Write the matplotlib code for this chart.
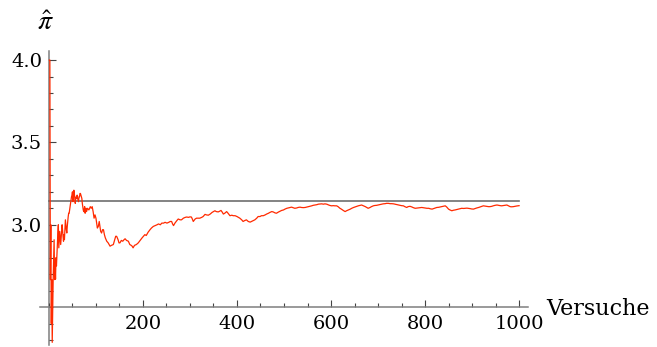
import numpy as np
import matplotlib
matplotlib.use('Agg')
import matplotlib.pyplot as plt
from matplotlib.ticker import MultipleLocator, FixedLocator

plt.rcParams['font.family'] = ['DejaVu Serif']
plt.rcParams['mathtext.fontset'] = 'stix'

# Schaetzwerte fuer pi nach n Versuchen
trials = [1, 2, 3, 4, 5, 6, 7, 8, 9, 10, 11, 12, 13, 14, 15, 16, 17, 18, 19, 20,
          21, 22, 23, 24, 25, 26, 27, 28, 29, 30, 31, 32, 33, 34, 35, 36, 37, 38, 39, 40,
          41, 42, 43, 44, 45, 46, 47, 48, 49, 50, 51, 52, 53, 54, 55, 56, 57, 58, 59, 60,
          61, 62, 63, 64, 65, 66, 67, 68, 69, 70, 71, 72, 73, 74, 75, 76, 77, 78, 79, 80,
          82, 85, 88, 90, 92, 94, 96, 98, 100, 103, 105, 107, 110, 112, 114, 116, 118, 120,
          123, 126, 128, 130, 133, 137, 140, 142, 144, 147, 149, 151, 154, 157, 160, 162,
          165, 169, 172, 175, 177, 179, 182, 186, 190, 194, 198, 201, 204, 207, 211, 215,
          218, 222, 226, 230, 233, 237, 240, 244, 247, 251, 255, 258, 261, 263, 265, 268,
          272, 275, 279, 282, 286, 290, 293, 297, 300, 303, 305, 307, 311, 314, 318, 321,
          325, 328, 332, 335, 339, 343, 347, 350, 353, 356, 360, 363, 366, 369, 371, 374,
          378, 381, 385, 389, 392, 396, 400, 403, 406, 410, 413, 416, 420, 424, 428, 431,
          435, 438, 442, 445, 449, 452, 456, 460, 463, 467, 470, 474, 477, 481, 484, 488,
          492, 495, 499, 502, 506, 509, 513, 516, 520, 523, 527, 530, 534, 537, 541, 545,
          548, 552, 555, 559, 562, 566, 570, 573, 577, 580, 584, 587, 591, 595, 598, 601,
          605, 608, 612, 615, 619, 622, 626, 630, 633, 637, 641, 644, 648, 651, 655, 658,
          662, 665, 669, 673, 676, 679, 683, 686, 690, 693, 697, 700, 704, 707, 711, 715,
          718, 722, 726, 729, 733, 736, 740, 743, 747, 750, 754, 757, 761, 764, 768, 772,
          775, 779, 782, 786, 790, 793, 797, 800, 804, 808, 811, 815, 818, 822, 825, 829,
          832, 836, 840, 843, 846, 850, 853, 857, 860, 864, 868, 871, 875, 878, 882, 885,
          889, 892, 896, 899, 903, 906, 910, 914, 917, 921, 924, 928, 931, 935, 938, 942,
          945, 949, 953, 956, 960, 963, 967, 970, 974, 977, 981, 984, 988, 991, 995, 998, 1000]
pi_hat = [4.0, 4.0, 2.667, 3.0, 2.4, 2.667, 2.286, 2.5, 2.667, 2.8, 2.909, 2.667, 2.769, 2.67, 2.8, 2.75, 2.82, 2.89, 2.95, 3.0,
          2.86, 2.91, 2.96, 2.92, 2.88, 2.92, 2.96, 3.0, 2.97, 2.93, 2.9, 2.94, 2.91, 2.97, 3.03, 3.0, 2.97, 2.95, 2.99, 3.02,
          3.05, 3.07, 3.07, 3.09, 3.11, 3.13, 3.15, 3.17, 3.18, 3.2, 3.14, 3.17, 3.21, 3.19, 3.16, 3.13, 3.16, 3.17, 3.16, 3.18,
          3.16, 3.15, 3.14, 3.17, 3.17, 3.19, 3.19, 3.18, 3.17, 3.16, 3.13, 3.11, 3.09, 3.08, 3.09, 3.11, 3.07, 3.09, 3.1, 3.08,
          3.1, 3.09, 3.11, 3.1, 3.11, 3.08, 3.04, 3.06, 3.04, 2.98, 2.99, 3.02, 2.96, 2.95, 2.97, 2.97, 2.94, 2.92,
          2.9, 2.89, 2.88, 2.87, 2.875, 2.88, 2.91, 2.93, 2.93, 2.91, 2.89, 2.89, 2.905, 2.9, 2.91, 2.915,
          2.905, 2.9, 2.88, 2.875, 2.87, 2.86, 2.875, 2.88, 2.89, 2.905, 2.92, 2.93, 2.94, 2.935, 2.955, 2.97,
          2.98, 2.99, 2.995, 3.0, 3.005, 3.0, 3.01, 3.01, 3.015, 3.01, 3.015, 3.02, 3.02, 3.005, 2.995, 3.01,
          3.025, 3.035, 3.03, 3.03, 3.04, 3.045, 3.047, 3.045, 3.048, 3.047, 3.035, 3.02, 3.035, 3.04, 3.04, 3.04,
          3.045, 3.05, 3.063, 3.06, 3.058, 3.065, 3.075, 3.08, 3.085, 3.08, 3.078, 3.082, 3.087, 3.075, 3.065, 3.07,
          3.08, 3.07, 3.055, 3.058, 3.055, 3.055, 3.05, 3.045, 3.04, 3.03, 3.02, 3.025, 3.03, 3.02, 3.016, 3.02,
          3.025, 3.03, 3.04, 3.05, 3.05, 3.055, 3.055, 3.06, 3.065, 3.07, 3.075, 3.08, 3.078, 3.072, 3.07, 3.077,
          3.083, 3.087, 3.09, 3.095, 3.1, 3.102, 3.105, 3.107, 3.103, 3.1, 3.102, 3.105, 3.107, 3.105, 3.104, 3.105,
          3.107, 3.11, 3.112, 3.115, 3.118, 3.12, 3.122, 3.125, 3.126, 3.127, 3.125, 3.127, 3.125, 3.12, 3.117, 3.115,
          3.116, 3.115, 3.115, 3.11, 3.1, 3.095, 3.087, 3.08, 3.085, 3.09, 3.095, 3.1, 3.105, 3.108, 3.112, 3.115,
          3.118, 3.12, 3.115, 3.11, 3.105, 3.1, 3.105, 3.11, 3.115, 3.117, 3.118, 3.12, 3.122, 3.125, 3.127, 3.128,
          3.13, 3.13, 3.128, 3.128, 3.127, 3.125, 3.122, 3.12, 3.118, 3.116, 3.115, 3.11, 3.105, 3.11, 3.112, 3.108,
          3.104, 3.1, 3.101, 3.103, 3.104, 3.105, 3.103, 3.102, 3.1, 3.1, 3.097, 3.095, 3.098, 3.102, 3.105, 3.106,
          3.108, 3.11, 3.113, 3.115, 3.108, 3.095, 3.09, 3.085, 3.088, 3.09, 3.093, 3.095, 3.098, 3.1, 3.099, 3.1,
          3.101, 3.1, 3.098, 3.096, 3.095, 3.098, 3.102, 3.105, 3.108, 3.112, 3.115, 3.113, 3.112, 3.11, 3.11, 3.112,
          3.115, 3.118, 3.12, 3.118, 3.116, 3.115, 3.117, 3.119, 3.12, 3.116, 3.11, 3.109, 3.11, 3.112, 3.114, 3.115, 3.116]

x_major = [200, 400, 600, 800, 1000]
y_major = [3.0, 3.5, 4.0]

fig = plt.figure(figsize=(6.57, 3.47), dpi=100)
ax = fig.add_axes([40/657, 2/347, 488/657, 294/347])

axis_col = '#7f7f7f'
ax.plot([0, 1000], [np.pi, np.pi], color='#6e6e6e', lw=1.2, zorder=2)
ax.plot(trials, pi_hat, color='#ff2a00', lw=0.9, zorder=3)

ax.set_xlim(-19, 1019)
ax.set_ylim(2.27, 4.055)

for s in ['top', 'right']:
    ax.spines[s].set_visible(False)
ax.spines['left'].set_position(('data', 0))
ax.spines['bottom'].set_position(('data', 2.5))
for s in ['left', 'bottom']:
    ax.spines[s].set_color(axis_col)
    ax.spines[s].set_linewidth(1.1)
ax.spines['left'].set_zorder(1)

ax.xaxis.set_major_locator(FixedLocator(x_major))
ax.xaxis.set_minor_locator(MultipleLocator(50))
ax.yaxis.set_major_locator(FixedLocator(y_major))
ax.yaxis.set_minor_locator(MultipleLocator(0.1))
ax.set_xticklabels([str(v) for v in x_major])
ax.set_yticklabels(['%.1f' % v for v in y_major])

ax.tick_params(which='both', direction='in', color='#444444', width=0.8, labelsize=14)
ax.tick_params(which='major', length=5)
ax.tick_params(which='minor', length=3)
ax.tick_params(axis='x', pad=6)
ax.tick_params(axis='y', pad=5)

fig.text(45/657, 1 - 23/347, r'$\hat{\pi}$', fontsize=20, ha='center', va='center')
fig.text(546/657, 1 - 309/347, 'Versuche', fontsize=16, ha='left', va='center')

fig.savefig('out.png', dpi=100)
